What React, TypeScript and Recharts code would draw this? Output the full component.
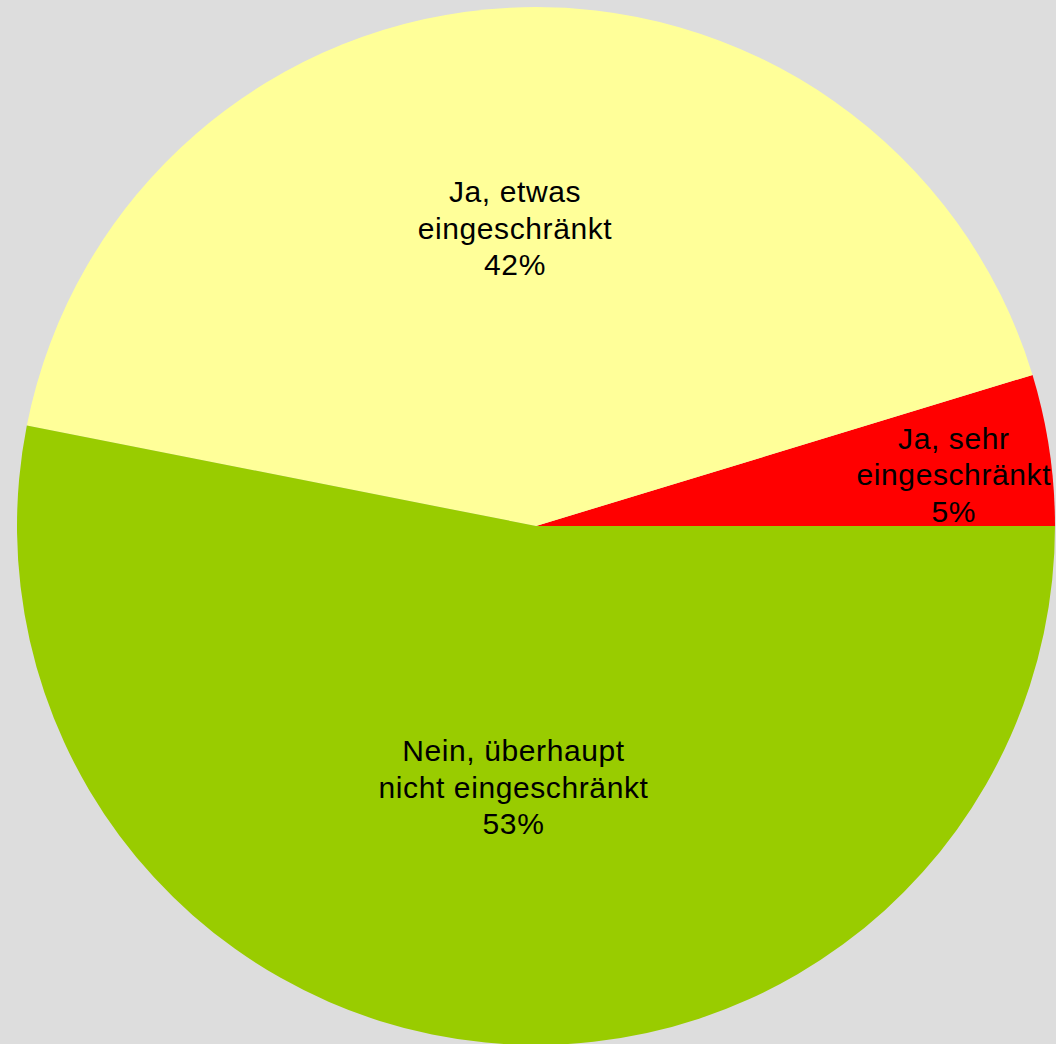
import { PieChart, Pie, Cell } from 'recharts';

// slices, counter-clockwise from 3 o'clock
const CATEGORIES = [
  'Ja, sehr eingeschränkt',
  'Ja, etwas eingeschränkt',
  'Nein, überhaupt nicht eingeschränkt',
];
const SHARES = [4.7, 42.2, 53.1];
const LABEL_LINES = [
  ['Ja, sehr', 'eingeschränkt'],
  ['Ja, etwas', 'eingeschränkt'],
  ['Nein, überhaupt', 'nicht eingeschränkt'],
];
const COLORS = ['#ff0000', '#ffff99', '#99cc00'];

// where each label sits inside its slice (fraction of radius + small nudge)
const LABEL_PLACE = [
  { r: 0.81, dx: 2, dy: 10 },
  { r: 0.575, dx: -6, dy: 0 },
  { r: 0.505, dx: 3, dy: 0 },
];

const RADIAN = Math.PI / 180;
const LINE_H = 36.5;

const data = CATEGORIES.map((name, i) => ({
  name,
  value: SHARES[i],
  lines: LABEL_LINES[i],
  color: COLORS[i],
}));

const renderLabel = (props: any) => {
  const { cx, cy, midAngle, outerRadius, index, payload } = props;
  const place = LABEL_PLACE[index];
  const r = outerRadius * place.r;
  const x = cx + r * Math.cos(-midAngle * RADIAN) + place.dx;
  const y = cy + r * Math.sin(-midAngle * RADIAN) + place.dy;
  const lines = [...payload.lines, `${Math.round(payload.value)}%`];
  const base = y + 11 - LINE_H;
  return (
    <text
      x={x}
      y={base}
      textAnchor="middle"
      fill="#000"
      fontSize={30}
      letterSpacing={0.6}
      fontFamily="'Liberation Sans', Arial, sans-serif"
    >
      {lines.map((t, i) => (
        <tspan key={i} x={x} y={base + i * LINE_H}>
          {t}
        </tspan>
      ))}
    </text>
  );
};

export default function App() {
  return (
    <div
      style={{
        position: 'fixed',
        left: 0,
        top: 0,
        width: 1056,
        height: 1044,
        background: '#dddddd',
        overflow: 'hidden',
      }}
    >
      <PieChart width={1056} height={1044} margin={{ top: 0, right: 0, bottom: 0, left: 0 }}>
        <Pie
          data={data}
          dataKey="value"
          nameKey="name"
          cx={536}
          cy={526}
          outerRadius={519}
          startAngle={0}
          endAngle={360}
          stroke="none"
          label={renderLabel}
          labelLine={false}
          isAnimationActive={false}
        >
          {data.map((entry, i) => (
            <Cell key={`cell-${i}`} fill={entry.color} />
          ))}
        </Pie>
      </PieChart>
    </div>
  );
}
